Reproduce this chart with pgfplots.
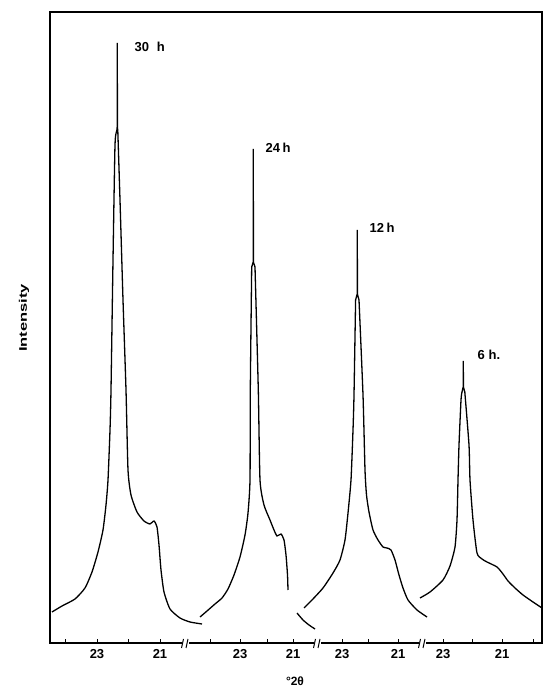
\documentclass[border=0pt]{standalone}
\usepackage{fontspec}
\setmainfont{Liberation Sans}
\usepackage{pgfplots}
\pgfplotsset{compat=1.18}
\usepackage{graphicx}
\begin{document}
\begin{tikzpicture}
\path[use as bounding box] (0,0) rectangle (545pt,693pt);
\begin{axis}[
  at={(50pt,50pt)}, anchor=south west,
  width=492pt, height=631pt, scale only axis,
  xmin=50, xmax=542, ymin=0, ymax=631,
  axis line style={line width=1.2pt},
  ytick=\empty,
  xtick={65,97,128,160,210,240,267,293,342,368,398,443,472,502,533},
  xticklabels={,23,,21,,23,,21,23,,21,23,,21,},
  xtick pos=left, tick align=inside,
  major tick length=4pt,
  tick style={line width=0.9pt, black},
  xticklabel style={font=\bfseries\fontsize{13}{13}\selectfont, yshift=-3pt},
  clip=false,
  fl/.style={black, line width=1.3pt, no markers, smooth, tension=0.35},
  sp/.style={black, line width=1.3pt, no markers, sharp plot},
]
% 30 h
\addplot[fl] coordinates {(52,31) (62,37) (75,44) (85,55) (92,71) (98,91) (103,113) (106,138) (108,163) (110,213) (111,253) (113,383) (115,498) (116.8,512)};
\addplot[sp] coordinates {(116.8,512) (117.2,516) (117.3,600) (117.4,516) (117.8,512)};
\addplot[fl] coordinates {(117.8,512) (120,443) (123,343) (126,253) (128,173) (131,148) (137,131) (144,122) (150,119) (154,122) (157,116) (159,98) (161,73) (164,51) (170,34) (180,25) (190,21) (202,19)};
% 24 h
\addplot[fl] coordinates {(200,26) (207,32) (215,39) (222,45) (228,54) (234,68) (240,86) (245,108) (248,130) (250,163) (250.3,253) (251.7,376)};
\addplot[sp] coordinates {(251.7,376) (253.2,381) (253.3,494) (253.4,381) (255,376)};
\addplot[fl] coordinates {(255,376) (258.3,253) (260,163) (264,138) (270,123) (274,113) (277,107) (281,109) (284,103) (286,88) (287.5,68) (288,53)};
\addplot[fl] coordinates {(297,30) (303,23) (309,18) (315,14)};
% 12 h
\addplot[fl] coordinates {(304,35) (312,43) (323,55) (333,70) (340,83) (345,103) (348,130) (351,163) (353,213) (354,248) (355.6,343)};
\addplot[sp] coordinates {(355.6,343) (357.2,349) (357.3,413) (357.4,349) (359,343)};
\addplot[fl] coordinates {(359,343) (363,248) (365,173) (366.5,148) (369,131) (373,113) (378,103) (383,96) (387,95) (391,93) (395,83) (399,68) (403,55) (408,43) (417,33) (427,26)};
% 6 h
\addplot[fl] coordinates {(420,45) (430,51) (443,63) (450,77) (455,96) (457,123) (458,163) (459,198) (461,243) (462,251)};
\addplot[sp] coordinates {(462,251) (463.2,256) (463.3,282) (463.4,256) (464.8,251)};
\addplot[fl] coordinates {(464.8,251) (469,198) (470,163) (473,123) (477,90) (482,84) (487,81) (497,76) (503,69) (508,62) (515,55) (523,48) (533,41) (542,35)};
\node[anchor=west, font=\bfseries\fontsize{13}{13}\selectfont] at (axis cs:131,596) {30\hspace{0.6em}h};
\node[anchor=west, font=\bfseries\fontsize{13}{13}\selectfont] at (axis cs:262,495) {24\hspace{0.2em}h};
\node[anchor=west, font=\bfseries\fontsize{13}{13}\selectfont] at (axis cs:366,415) {12\hspace{0.2em}h};
\node[anchor=west, font=\bfseries\fontsize{13}{13}\selectfont] at (axis cs:474,288) {6\hspace{0.3em}h.};
\end{axis}
\foreach \bx in {185,317,422}{
  \fill[white] (\bx pt-3.5pt,47pt) rectangle (\bx pt+3.5pt,53pt);
  \draw[line width=1pt] (\bx pt-3.5pt,45pt) -- (\bx pt-1.5pt,54pt);
  \draw[line width=1pt] (\bx pt+1pt,45pt) -- (\bx pt+3pt,54pt);
}
\node[font=\bfseries\fontsize{12}{12}\selectfont] at (295pt,12pt) {°2θ};
\node[rotate=90, font=\bfseries\fontsize{11}{11}\selectfont] at (24pt,375pt) {\scalebox{1.5}[1]{Intensity}};
\end{tikzpicture}
\end{document}
